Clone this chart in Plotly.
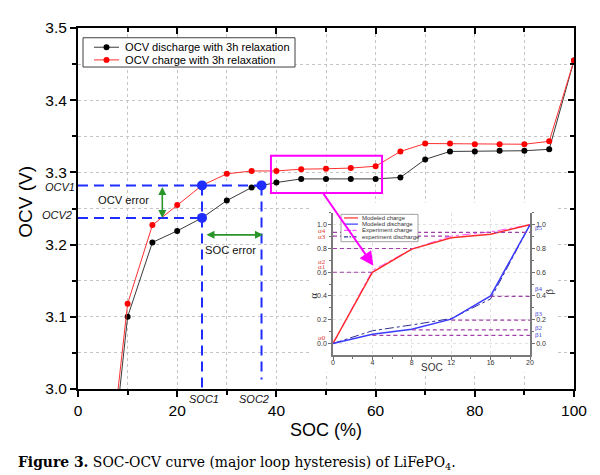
import plotly.graph_objects as go

# ---------------- data ----------------
soc_pct = [5, 10, 15, 20, 25, 30, 35, 40, 45, 50, 55, 60, 65, 70, 75, 80, 85, 90, 95, 100]
ocv_discharge = [2.78, 3.100, 3.203, 3.219, 3.237, 3.261, 3.279, 3.286, 3.291, 3.291,
                 3.291, 3.291, 3.293, 3.318, 3.329, 3.329, 3.330, 3.330, 3.332, 3.455]
ocv_charge = [2.81, 3.118, 3.227, 3.255, 3.282, 3.298, 3.302, 3.302, 3.3045, 3.305,
              3.306, 3.3085, 3.329, 3.340, 3.340, 3.339, 3.339, 3.339, 3.343, 3.455]

soc1, soc2 = 25, 37
ocv1, ocv2 = 3.282, 3.237
marker_soc = [soc1, soc1, soc2]
marker_ocv = [ocv1, ocv2, ocv1]

x_tick_vals = [0, 20, 40, 60, 80, 100]
y_tick_vals = [3.0, 3.1, 3.2, 3.3, 3.4, 3.5]

inset_soc = [0, 4, 8, 12, 16, 20]
modeled_charge = [0.0, 0.60, 0.795, 0.89, 0.92, 1.0]
modeled_discharge = [0.0, 0.078, 0.12, 0.205, 0.40, 1.0]
experiment_charge = [0.0, 0.615, 0.795, 0.905, 0.94, 1.0]
experiment_discharge = [0.0, 0.107, 0.156, 0.21, 0.375, 1.0]
inset_y_ticks = [0.0, 0.2, 0.4, 0.6, 0.8, 1.0]

alpha_names = ["α0", "α1", "α2", "α3", "α4"]
alpha_levels = [0.0, 0.60, 0.80, 0.905, 0.935]
alpha_ends = [0, 4, 8, 12, 20]
beta_names = ["β1", "β2", "β3", "β4", "β5"]
beta_levels = [0.068, 0.115, 0.197, 0.397, 1.0]
beta_starts = [4, 8, 12, 16, 20]

# ---------------- layout helpers ----------------
OX, OY = 8, 8            # page (body) margin of the browser
W, H = 600 - OX, 475 - OY
ML, MT = 78 - OX, 19 - OY
PW, PH = 496, 370
MR, MB = W - ML - PW, H - MT - PH


def px(xp):  # page pixel -> paper x
    return (xp - OX - ML) / PW


def py(yp):  # page pixel -> paper y
    return (OY + MT + PH - yp) / PH


FONT = "Liberation Sans, Arial, sans-serif"
SERIF = "Liberation Serif, Times New Roman, serif"
GRID = "#c4c4c4"
PURPLE = "#a040a8"
BLUE = "#1f2dff"
GREEN = "#2a962a"
MAGENTA = "#ff00ff"

fig = go.Figure()

# main series
fig.add_trace(go.Scatter(x=soc_pct, y=ocv_discharge, mode="lines+markers",
                         line=dict(color="#3a3a3a", width=1),
                         marker=dict(color="black", size=6),
                         showlegend=False, xaxis="x", yaxis="y"))
fig.add_trace(go.Scatter(x=soc_pct, y=ocv_charge, mode="lines+markers",
                         line=dict(color="#ff3030", width=1),
                         marker=dict(color="#ff0000", size=6),
                         showlegend=False, xaxis="x", yaxis="y"))
fig.add_trace(go.Scatter(x=marker_soc, y=marker_ocv, mode="markers",
                         marker=dict(color=BLUE, size=10),
                         showlegend=False, xaxis="x", yaxis="y"))

# dummy subplot producing the white background behind the inset
fig.add_trace(go.Scatter(x=[None], y=[None], xaxis="x2", yaxis="y2",
                         showlegend=False, hoverinfo="skip"))

# inset series
fig.add_trace(go.Scatter(x=inset_soc, y=experiment_charge, mode="lines",
                         line=dict(color="#ff55ff", width=1, dash="dashdot"),
                         showlegend=False, xaxis="x3", yaxis="y3"))
fig.add_trace(go.Scatter(x=inset_soc, y=experiment_discharge, mode="lines",
                         line=dict(color="#303090", width=1, dash="dashdot"),
                         showlegend=False, xaxis="x3", yaxis="y3"))
fig.add_trace(go.Scatter(x=inset_soc, y=modeled_charge, mode="lines",
                         line=dict(color="#ff2a2a", width=1.5),
                         showlegend=False, xaxis="x3", yaxis="y3"))
fig.add_trace(go.Scatter(x=inset_soc, y=modeled_discharge, mode="lines",
                         line=dict(color="#3a3aff", width=1.5),
                         showlegend=False, xaxis="x3", yaxis="y3"))
fig.add_trace(go.Scatter(x=[None], y=[None], xaxis="x3", yaxis="y4",
                         showlegend=False, hoverinfo="skip"))

# top / right inward ticks of the main frame
fig.add_trace(go.Scatter(x=[None], y=[None], xaxis="x5", yaxis="y5",
                         showlegend=False, hoverinfo="skip"))

shapes = []
ann = []


def text(xp, yp, s, size, xanchor="center", family=FONT, color="#111", **kw):
    ann.append(dict(x=px(xp), y=py(yp), xref="paper", yref="paper", text=s, showarrow=False,
                    xanchor=xanchor, yanchor="middle", font=dict(family=family, size=size, color=color),
                    **kw))


# blue dashed guide lines
bdash = dict(color=BLUE, width=2, dash="10px,6px")
shapes.append(dict(type="line", xref="x", yref="y", x0=0, x1=soc2, y0=ocv1, y1=ocv1, line=bdash))
shapes.append(dict(type="line", xref="x", yref="y", x0=0, x1=soc1, y0=ocv2, y1=ocv2, line=bdash))
shapes.append(dict(type="line", xref="x", yref="y", x0=soc1, x1=soc1, y0=ocv1, y1=3.0, line=bdash))
shapes.append(dict(type="line", xref="x", yref="y", x0=soc2, x1=soc2, y0=ocv1, y1=3.013, line=bdash))

# magenta highlight box
shapes.append(dict(type="rect", xref="x", yref="y", x0=38.9, x1=61.3, y0=3.2716, y1=3.323,
                   line=dict(color=MAGENTA, width=2), layer="above"))

# green double arrows
ann.append(dict(x=17, y=ocv2, ax=17, ay=ocv1, xref="x", yref="y", axref="x", ayref="y",
                text="", showarrow=True, arrowside="end+start", arrowhead=2, arrowsize=1,
                arrowwidth=1.6, arrowcolor=GREEN))
ann.append(dict(x=37.3, y=3.2135, ax=25.6, ay=3.2135, xref="x", yref="y", axref="x", ayref="y",
                text="", showarrow=True, arrowside="end+start", arrowhead=2, arrowsize=1,
                arrowwidth=1.6, arrowcolor=GREEN))
text(123.5, 195, "OCV error", 11.2)
text(230, 247, "SOC error", 11.2)
text(77, 182, "<i>OCV1</i>", 11, xanchor="right")
text(74, 211, "<i>OCV2</i>", 11, xanchor="right")
text(203.5, 399, "<i>SOC1</i>", 11)
text(254, 399, "<i>SOC2</i>", 11)

# axis titles
text(26, 197, "OCV (V)", 19, color="black", textangle=-90)
text(326, 431, "SOC (%)", 18, color="black")

# caption
text(16, 465, "<b>Figure 3.</b> SOC-OCV curve (major loop hysteresis) of LiFePO<sub>4</sub>.", 13.9,
     xanchor="left", family="DejaVu Serif, serif", color="black")

# main legend (drawn by hand, compact rows)
shapes.append(dict(type="rect", xref="paper", yref="paper", x0=px(83), x1=px(295), y0=py(59), y1=py(29),
                   line=dict(color="#404040", width=1), fillcolor="white", layer="above"))
for row_y, lc, mc, label in [(38.7, "#3a3a3a", "black", "OCV discharge with 3h relaxation"),
                             (51.7, "#ff3030", "#ff0000", "OCV charge with 3h relaxation")]:
    shapes.append(dict(type="line", xref="paper", yref="paper", x0=px(94), x1=px(119),
                       y0=py(row_y), y1=py(row_y), line=dict(color=lc, width=1), layer="above"))
    shapes.append(dict(type="circle", xref="paper", yref="paper", x0=px(103.5), x1=px(109.5),
                       y0=py(row_y + 3), y1=py(row_y - 3), fillcolor=mc, line=dict(color=mc, width=0),
                       layer="above"))
    text(123, row_y, label, 11.1, xanchor="left", color="black")

# inset: alpha / beta levels
for name, lev, xe, ys in zip(alpha_names, alpha_levels, alpha_ends, [5, 5, -13, -1, 1]):
    if xe > 0:
        shapes.append(dict(type="line", xref="x3", yref="y3", x0=0, x1=xe, y0=lev, y1=lev,
                           line=dict(color=PURPLE, width=1.2, dash="4px,3px"), layer="above"))
    ann.append(dict(x=px(328), y=lev, xref="paper", yref="y3", xanchor="right", yanchor="middle",
                    yshift=ys, text=name, showarrow=False,
                    font=dict(family=SERIF, size=7, color="#e03a3a")))
for name, lev, xs, ys in zip(beta_names, beta_levels, beta_starts, [0, 2, 6, 7, -3]):
    if xs < 20:
        shapes.append(dict(type="line", xref="x3", yref="y3", x0=xs, x1=20, y0=lev, y1=lev,
                           line=dict(color=PURPLE, width=1.2, dash="4px,3px"), layer="above"))
    ann.append(dict(x=px(533), y=lev, xref="paper", yref="y3", xanchor="left", yanchor="middle",
                    yshift=ys, text=name, showarrow=False,
                    font=dict(family=SERIF, size=7, color="#4a4ad8")))

# inset axis titles
text(313.5, 294, "α", 11, family=SERIF, color="#222", textangle=-90)
text(549, 289, "β", 11, family=SERIF, color="#222", textangle=-90)
text(432, 367, "SOC", 10, color="#333")

# inset legend (hand drawn)
shapes.append(dict(type="rect", xref="paper", yref="paper", x0=px(341), x1=px(418), y0=py(238), y1=py(210),
                   line=dict(color="#8a8a8a", width=0.8), fillcolor="white", layer="above"))
for row_y, col, dash, label in [(213.7, "#ff2a2a", "solid", "Modeled charge"),
                                (220.0, "#3a3aff", "solid", "Modeled discharge"),
                                (226.5, "#ff55ff", "dashdot", "Experiment charge"),
                                (233.0, "#303090", "dashdot", "experiment discharge")]:
    shapes.append(dict(type="line", xref="paper", yref="paper", x0=px(344), x1=px(358),
                       y0=py(row_y), y1=py(row_y),
                       line=dict(color=col, width=1.2,
                                 dash="4px,1.5px,1.5px,1.5px" if dash == "dashdot" else "solid"),
                       layer="above"))
    text(360, row_y, label, 6, xanchor="left", color="#333")

# magenta pointer arrow into the inset
ann.append(dict(x=4.1, y=0.655, xref="x3", yref="y3", ax=-52, ay=-75, text="", showarrow=True,
                arrowhead=2, arrowsize=1.4, arrowwidth=2, arrowcolor=MAGENTA, standoff=0))

axis_common = dict(showline=True, linecolor="black", linewidth=2, zeroline=False,
                   tickfont=dict(family=FONT, size=15.5, color="black"))
inset_tick = dict(ticks="outside", ticklen=3, tickwidth=1, tickcolor="#707070",
                  showline=True, linecolor="#7a7a7a", linewidth=1.5, zeroline=False,
                  tickfont=dict(family=FONT, size=7, color="#333"))

fig.update_layout(
    width=W, height=H,
    margin=dict(l=ML, r=MR, t=MT, b=MB, pad=0),
    paper_bgcolor="white", plot_bgcolor="white",
    showlegend=False,
    shapes=shapes, annotations=ann,
    xaxis=dict(domain=[0, 1], range=[0, 100], tickvals=x_tick_vals, ticks="outside", ticklen=6,
               tickwidth=1.5, tickcolor="black", mirror=True,
               showgrid=True, gridcolor=GRID, griddash="3px,3px", gridwidth=1,
               minor=dict(dtick=10, ticks="outside", ticklen=4, tickwidth=1.5, tickcolor="black",
                          showgrid=True, gridcolor=GRID, griddash="3px,3px", gridwidth=1),
               anchor="y", **axis_common),
    yaxis=dict(domain=[0, 1], range=[3.0, 3.5], tickvals=y_tick_vals, tickformat=".1f", ticks="outside",
               ticklen=6, tickwidth=1.5, tickcolor="black", mirror=True,
               showgrid=True, gridcolor=GRID, griddash="3px,3px", gridwidth=1,
               minor=dict(dtick=0.05, ticks="outside", ticklen=4, tickwidth=1.5, tickcolor="black",
                          showgrid=True, gridcolor=GRID, griddash="3px,3px", gridwidth=1),
               anchor="x", **axis_common),
    xaxis2=dict(domain=[px(310), px(556)], range=[0, 1], visible=False, anchor="y2", fixedrange=True),
    yaxis2=dict(domain=[py(372), py(198)], range=[0, 1], visible=False, anchor="x2", fixedrange=True),
    xaxis3=dict(domain=[px(333), px(530)], range=[0, 20], anchor="y3", tickvals=inset_soc,
                ticklabelstandoff=-3,
                minor=dict(dtick=2, ticks="outside", ticklen=2, tickcolor="#707070", tickwidth=1),
                showgrid=True, gridcolor="#e2e2e2", griddash="dot", gridwidth=1, **inset_tick),
    yaxis3=dict(domain=[py(354), py(208.5)], range=[-0.096, 1.1], anchor="x3", tickvals=inset_y_ticks,
                tickformat=".1f",
                minor=dict(dtick=0.1, ticks="outside", ticklen=2, tickcolor="#707070", tickwidth=1),
                showgrid=True, gridcolor="#e2e2e2", griddash="dot", gridwidth=1, **inset_tick),
    yaxis4=dict(overlaying="y3", side="right", anchor="x3", range=[-0.096, 1.1], tickvals=inset_y_ticks,
                tickformat=".1f",
                minor=dict(dtick=0.1, ticks="outside", ticklen=2, tickcolor="#707070", tickwidth=1),
                showgrid=False, **inset_tick),
    xaxis5=dict(overlaying="x", side="top", anchor="y", range=[0, 100], dtick=20, ticks="inside",
                ticklen=6, tickwidth=1.5, tickcolor="black", showticklabels=False, showgrid=False,
                showline=False, zeroline=False,
                minor=dict(dtick=10, ticks="inside", ticklen=4, tickwidth=1.5, tickcolor="black")),
    yaxis5=dict(overlaying="y", side="right", anchor="x", range=[3.0, 3.5], dtick=0.1, ticks="inside",
                ticklen=6, tickwidth=1.5, tickcolor="black", showticklabels=False, showgrid=False,
                showline=False, zeroline=False,
                minor=dict(dtick=0.05, ticks="inside", ticklen=4, tickwidth=1.5, tickcolor="black")),
)

fig.write_html("out.html")
